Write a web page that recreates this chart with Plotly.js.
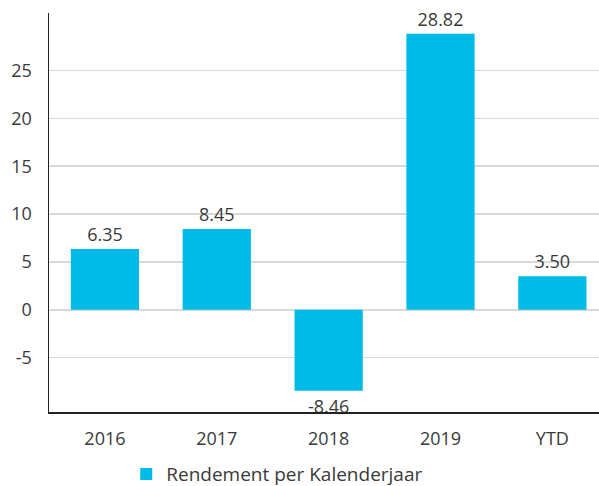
<!DOCTYPE html>
<html>
<head>
<meta charset="utf-8">
<script src="https://cdn.plot.ly/plotly-3.0.1.min.js"></script>
<style>html,body{margin:0;padding:0;background:#fff;}#chart{width:599px;height:486px;}</style>
</head>
<body>
<div id="chart"></div>
<script>
const categories = ["2016", "2017", "2018", "2019", "YTD"];
const values = [6.35, 8.45, -8.46, 28.82, 3.50];
const labels = ["6.35", "8.45", "-8.46", "28.82", "3.50"];
const seriesName = "Rendement per Kalenderjaar";
const yTicks = [-5, 0, 5, 10, 15, 20, 25];

const font = {family: "Open Sans, sans-serif", size: 18, color: "#3a3a3a"};
const legendFont = {family: "Open Sans, sans-serif", size: 19, color: "#3a3a3a"};

Plotly.newPlot("chart", [{
  type: "bar",
  x: categories,
  y: values,
  name: seriesName,
  text: labels,
  texttemplate: "%{text}",
  textposition: "outside",
  cliponaxis: false,
  textfont: font,
  marker: {color: "#00BAE8"},
  showlegend: true,
  hoverinfo: "none"
}], {
  width: 599, height: 486,
  margin: {l: 49, r: 0, t: 13, b: 74, autoexpand: false},
  paper_bgcolor: "#fff", plot_bgcolor: "#fff",
  font: font,
  bargap: 0.39,
  xaxis: {
    type: "category",
    range: [-0.5, 4.417],
    showgrid: false,
    showline: true, linecolor: "#222", linewidth: 1.5,
    ticks: "", tickfont: font,
    ticklabelstandoff: 10
  },
  yaxis: {
    range: [-10.67, 31.0],
    tickvals: yTicks,
    ticktext: yTicks.map(String),
    showgrid: true, gridcolor: "#d9d9d9", gridwidth: 1.5,
    zeroline: false,
    showline: true, linecolor: "#222", linewidth: 1.5,
    ticks: "", tickfont: font,
    ticklabelstandoff: 12
  },
  showlegend: true,
  legend: {
    orientation: "h",
    x: 0.415, xanchor: "center",
    y: -0.108, yanchor: "top",
    font: legendFont,
    itemwidth: 30,
    traceorder: "normal"
  }
}, {displayModeBar: false, staticPlot: true});
</script>
</body>
</html>
